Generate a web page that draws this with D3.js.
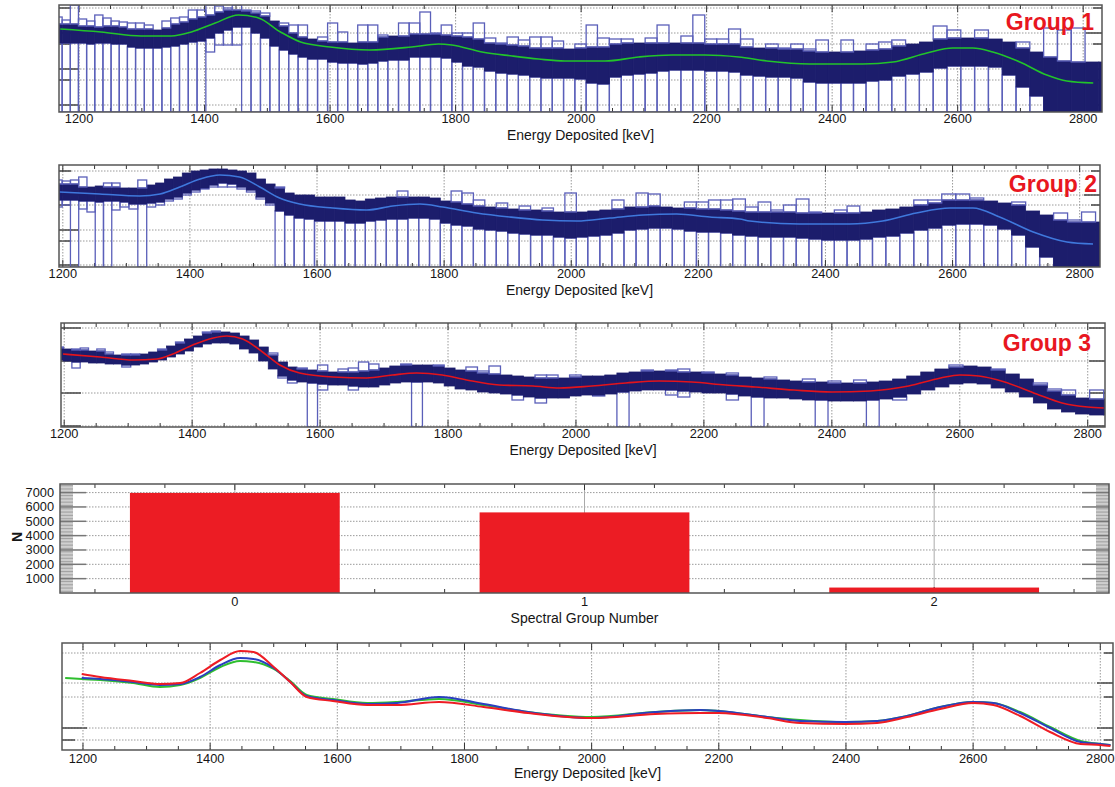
<!DOCTYPE html>
<html><head><meta charset="utf-8">
<script src="https://cdn.jsdelivr.net/npm/d3@7"></script>
<style>
body{margin:0;background:#fff}
svg{display:block}
text{font-family:"Liberation Sans",Arial,Helvetica,sans-serif}
</style>
</head><body>
<svg id="chart" width="1115" height="787"></svg>
<script>
// ---------------- DATA ----------------
const energyTicks = [1200, 1400, 1600, 1800, 2000, 2200, 2400, 2600, 2800];
const energyMinorStep = 50;
const binEdges = [1160,1173,1186,1199,1212,1225,1238,1251,1264,1277,
  1290,1304,1318,1332,1346,1360,1374,1388,1402,1416,
  1430,1444,1459,1474,1489,1504,1519,1534,1549,1564,
  1580,1596,1612,1628,1644,1660,1676,1692,1709,1726,
  1743,1760,1777,1794,1811,1828,1846,1864,1882,1900,
  1918,1936,1954,1972,1990,2008,2026,2045,2064,2083,
  2102,2121,2140,2159,2178,2197,2216,2235,2254,2274,
  2294,2314,2334,2354,2374,2394,2414,2434,2454,2474,
  2495,2517,2539,2561,2583,2605,2627,2649,2671,2693,
  2715,2737,2759,2781,2803,2825,2847];

// Group 1 (ensemble envelope, arbitrary log-count units)
const g1Hi = [88,88,88,86,86,85,86,86,85,83,83,83,82,84,88,90,93,95,97,100,102,102,101,99,96,91,86,79,75,73,71,70,70,69,70,70,75,76,76,78,78,78,77,76,75,73,69,68,67,66,64,64,64,63,64,65,65,68,69,69,69,69,69,69,69,68,68,68,65,64,64,63,63,61,60,60,60,61,62,63,66,68,70,73,74,74,74,73,70,64,60,55,51,50,50,50];
const g1Lo = [69,69,69,69,68,69,69,68,68,65,64,64,64,65,66,68,70,71,74,79,82,85,85,79,74,66,62,58,55,53,53,50,49,49,48,49,51,52,52,55,55,55,54,50,46,45,41,39,38,37,35,34,34,34,33,29,28,35,37,38,39,41,42,42,42,41,41,40,37,36,35,35,34,30,29,29,29,29,31,32,36,38,40,44,46,46,46,45,37,25,16,0,0,0,0,0];
const g1Up = [95,92,107,93,91,97,94,91,90,89,89,87,82,91,94,95,102,102,107,106,104,107,102,101,99,91,89,87,87,73,75,89,80,69,87,87,77,76,89,89,100,79,87,79,79,89,74,69,75,72,75,75,71,63,68,87,74,73,73,69,74,87,69,76,97,73,73,83,73,64,68,64,68,63,72,60,72,61,68,70,72,68,70,86,82,74,82,73,70,70,60,84,82,84,50,50];
const g1Dn = [0,0,0,0,0,0,0,0,0,0,0,0,0,0,0,0,0,0,60,67,67,67,0,0,0,0,0,0,0,0,0,0,0,0,0,0,0,0,0,0,0,0,0,0,0,0,0,0,0,0,0,0,0,0,0,0,0,0,0,0,0,0,0,0,0,0,0,0,0,0,0,0,0,0,0,0,0,0,0,0,0,0,0,0,0,0,0,0,0,0,0,0,0,0,0,0];
const g1MeanE = [1170,1235,1299,1347,1379,1417,1454,1486,1521,1553,1600,1663,1730,1773,1794,1842,1890,1932,1974,2038,2092,2145,2197,2251,2296,2364,2449,2497,2551,2592,2624,2656,2699,2742,2774,2816];
const g1MeanV = [83,80,76,76,80,89,97,94,80,70,65,62,65,68,67,60,56,53,51,51,55,57,57,55,51,48,48,50,59,64,64,60,50,37,31,29];

// Group 2
const g2Hi = [83,83,83,83,83,80,80,81,80,80,79,79,79,82,84,88,90,94,96,97,98,98,97,96,94,88,83,79,74,72,72,70,70,70,67,66,68,69,70,70,70,70,69,66,65,63,61,60,59,58,57,57,56,55,55,55,56,57,58,60,60,61,60,59,59,58,58,57,56,55,55,55,55,54,54,54,54,54,55,57,58,60,62,64,67,67,67,66,64,62,56,52,47,45,45,45];
const g2Lo = [67,67,67,67,67,66,66,65,66,66,65,63,63,64,65,68,70,74,77,79,82,84,83,80,77,70,64,56,52,49,48,46,46,46,44,44,46,47,48,48,49,49,48,44,42,41,38,37,36,34,33,32,32,30,29,30,31,32,34,37,38,39,39,38,36,35,35,34,32,31,30,30,30,29,28,27,27,27,28,30,31,34,37,39,42,43,43,42,38,32,20,10,0,0,0,0];
const g2Up = [83,83,87,86,87,90,80,81,84,84,79,79,87,82,84,88,90,94,96,97,98,98,97,96,94,88,83,80,74,72,72,70,70,70,67,66,67,69,70,76,70,70,69,66,76,74,67,60,64,58,61,57,59,55,74,55,56,57,67,60,74,73,60,59,65,65,67,67,68,60,65,57,62,68,55,54,57,61,55,57,58,60,67,67,73,73,69,65,64,65,56,52,54,47,55,45];
const g2Dn = [60,60,60,62,0,58,55,0,0,57,60,58,0,60,62,66,68,72,75,78,80,80,80,78,75,68,62,0,0,0,0,0,0,0,0,0,0,0,0,0,0,0,0,0,0,0,0,0,0,0,0,0,0,0,0,0,0,0,0,0,0,0,0,0,0,0,0,0,0,0,0,0,0,0,0,0,0,0,0,0,0,0,0,0,0,0,0,0,0,0,0,0,0,0,0,0];
const g2MeanE = [1195,1258,1321,1353,1384,1416,1447,1478,1510,1541,1573,1625,1678,1719,1762,1798,1851,1903,1955,2009,2061,2113,2166,2218,2265,2281,2359,2438,2490,2543,2596,2632,2674,2727,2780,2821];
const g2MeanV = [75,73,71,73,80,88,92,90,80,69,63,59,57,61,63,60,54,50,47,46,49,52,53,50,48,46,43,43,46,54,59,59,50,35,25,23];

// Group 3
const g3Hi = [79,79,79,78,77,77,76,76,73,72,72,72,73,75,77,81,84,88,91,94,95,95,94,91,87,80,72,65,60,58,57,56,55,55,55,56,57,59,61,62,62,62,61,59,57,56,54,53,52,51,50,49,49,49,50,51,51,52,54,55,56,56,56,55,55,54,53,52,50,49,48,47,46,45,45,44,44,44,45,46,48,51,55,58,60,61,60,57,53,48,42,36,32,29,28,28];
const g3Lo = [67,67,67,66,65,65,64,64,63,63,62,62,63,65,67,70,73,76,80,83,84,84,83,78,74,66,58,51,47,45,44,43,42,42,41,40,40,42,44,45,45,45,44,41,38,37,35,34,33,32,30,29,29,29,31,32,32,33,35,36,37,37,37,36,35,34,34,33,31,30,29,29,28,27,27,26,26,26,27,28,30,33,37,40,43,44,43,39,35,30,24,18,15,13,12,12];
const g3Up = [79,79,80,78,78,79,76,78,75,72,73,73,73,75,78,81,85,88,91,95,96,95,94,91,87,80,74,65,60,59,57,62,55,58,59,65,63,59,61,63,61,62,62,59,57,60,56,61,52,51,50,52,52,49,52,51,51,52,54,55,57,56,57,58,55,55,53,54,50,49,50,47,46,48,45,46,44,47,45,46,48,51,55,58,62,61,60,58,53,48,44,38,37,29,37,28];
const g3Dn = [67,67,67,66,59,65,64,64,63,63,60,62,63,65,67,70,73,76,80,83,84,84,83,78,74,66,58,49,44,45,0,37,42,42,37,40,40,42,44,45,0,45,44,41,38,37,35,34,33,27,30,24,29,29,31,32,31,33,0,36,37,37,32,30,35,34,34,27,31,0,29,29,28,27,0,26,26,26,0,28,27,33,37,40,43,44,43,39,35,30,24,18,15,13,12,12];
const g3MeanE = [1198,1256,1308,1345,1370,1401,1433,1454,1479,1510,1537,1568,1620,1673,1713,1751,1791,1829,1880,1933,1974,2025,2078,2130,2181,2234,2280,2340,2400,2460,2520,2570,2600,2630,2670,2720,2760,2800,2825];
const g3MeanV = [73,70,67,68,73,82,89,91,88,75,62,54,50,49,52,54,52,47,42,41,39,41,44,46,45,42,40,37,35,36,41,49,52,51,45,33,24,20,19];

// log-axis grid levels (arbitrary units) per panel: [level, isDecade]
const g1Grid = [[104,0],[79,1],[68,0],[43,1],[32,0],[7,1]];
const g2Grid = [[96,0],[72,1],[62,0],[37,1],[26,0],[2,1]];
const g3Grid = [[99,1],[66,1],[34,1],[1,1]];

// Spectral group counts
const groupNumbers = [0, 1, 2];
const groupCounts = [6980, 5620, 380];
const countTicks = [1000, 2000, 3000, 4000, 5000, 6000, 7000];

// Overlay of the three group means
const ovE     = [1172,1198,1227,1279,1321,1353,1384,1416,1447,1468,1500,1526,1552,1593,1647,1694,1760,1830,1900,2000,2100,2171,2200,2276,2328,2399,2449,2496,2548,2600,2632,2674,2721,2769,2800,2816];
const ovGreen = [72,71,70,67,63,65,72,83,89,88,81,69,55,51,47,48,51,45,38,33,38,40,39,33,30,28,29,34,43,48,47,38,23,9,6,5];
const ovBlue  = [null,72,71,68,65,66,73,85,92,91,82,68,54,50,46,47,53,46,38,32,38,40,39,33,29,28,29,34,43,48,47,37,22,8,6,5];
const ovRed   = [null,76,73,69,66,67,77,90,99,98,83,68,53,49,45,45,48,43,37,32,36,37,37,32,27,26,27,33,41,47,45,34,18,6,5,4];
const ovGrid  = [[97,0],[67,1],[53,0],[22,1],[10,0]];

// ---------------- DRAWING ----------------
const svg = d3.select("#chart");
const NAVY = "#1c1d6c", OUTLINE = "#5a5fb9", FRAME = "#555", GRIDC = "#9a9a9a";
const RED = "#e8171f", TXT = "#151515";

function energyAxis(g, x, top, bottom) {
  const lo = x.domain()[0], hi = x.domain()[1];
  const minors = d3.range(Math.ceil(lo / energyMinorStep) * energyMinorStep, hi, energyMinorStep);
  g.append("g").selectAll("line").data(energyTicks).join("line")
    .attr("x1", d => x(d)).attr("x2", d => x(d)).attr("y1", top).attr("y2", bottom)
    .attr("stroke", GRIDC).attr("stroke-dasharray", "1.5,1.5").attr("stroke-width", 1);
  const t = g.append("g");
  t.selectAll(".b").data(minors).join("line")
    .attr("x1", d => x(d)).attr("x2", d => x(d))
    .attr("y1", bottom).attr("y2", d => bottom - (d % 200 === 0 ? 7 : 4))
    .attr("stroke", "#333").attr("stroke-width", 1);
  t.selectAll(".t").data(minors).join("line")
    .attr("x1", d => x(d)).attr("x2", d => x(d))
    .attr("y1", top).attr("y2", d => top + (d % 200 === 0 ? 7 : 4))
    .attr("stroke", "#333").attr("stroke-width", 1);
}
function energyLabels(g, x, labelY, titleY) {
  g.append("g").selectAll("text").data(energyTicks).join("text")
    .attr("x", d => x(d)).attr("y", labelY).attr("text-anchor", "middle")
    .attr("font-size", 12.8).attr("fill", TXT).text(d => d);
  const r = x.range();
  g.append("text").attr("x", (r[0] + r[1]) / 2).attr("y", titleY)
    .attr("text-anchor", "middle").attr("font-size", 14).attr("fill", TXT)
    .text("Energy Deposited [keV]");
}
function levelGrid(g, y, grid, left, right) {
  g.append("g").selectAll("line").data(grid).join("line")
    .attr("x1", left).attr("x2", right).attr("y1", d => y(d[0])).attr("y2", d => y(d[0]))
    .attr("stroke", GRIDC).attr("stroke-dasharray", "1.5,1.5").attr("stroke-width", 1);
  const t = g.append("g");
  t.selectAll(".l").data(grid).join("line")
    .attr("x1", left).attr("x2", d => left + (d[1] ? 20 : 12))
    .attr("y1", d => y(d[0])).attr("y2", d => y(d[0])).attr("stroke", "#444").attr("stroke-width", 1.5);
  t.selectAll(".r").data(grid).join("line")
    .attr("x1", right).attr("x2", d => right - (d[1] ? 16 : 9))
    .attr("y1", d => y(d[0])).attr("y2", d => y(d[0])).attr("stroke", "#444").attr("stroke-width", 1.5);
}

function histPanel(p) {
  const x = d3.scaleLinear().domain(p.eDom).range([p.left, p.right]);
  const y = d3.scaleLinear().domain([0, p.uMax]).range([p.bottom, p.top]);
  const g = svg.append("g");
  const cid = "clip" + p.id;
  svg.append("clipPath").attr("id", cid).append("rect")
    .attr("x", p.left).attr("y", p.top).attr("width", p.right - p.left).attr("height", p.bottom - p.top);

  levelGrid(g, y, p.grid, p.left, p.right);
  energyAxis(g, x, p.top, p.bottom);

  const bins = p.hi.map((h, i) => ({e0: binEdges[i], e1: binEdges[i + 1], hi: h, lo: p.lo[i], up: p.up[i], dn: p.dn[i]}));
  const dg = g.append("g").attr("clip-path", `url(#${cid})`);
  dg.append("g").selectAll("rect").data(bins.filter(b => b.dn < b.lo)).join("rect")
    .attr("x", b => x(b.e0)).attr("width", b => x(b.e1) - x(b.e0))
    .attr("y", b => y(b.lo)).attr("height", b => y(b.dn) - y(b.lo))
    .attr("fill", "none").attr("stroke", OUTLINE).attr("stroke-width", 1.3);
  dg.append("g").selectAll("rect").data(bins).join("rect")
    .attr("x", b => x(b.e0)).attr("width", b => x(b.e1) - x(b.e0))
    .attr("y", b => y(b.hi)).attr("height", b => y(b.lo) - y(b.hi))
    .attr("fill", NAVY).attr("stroke", NAVY).attr("stroke-width", 0.8);
  dg.append("g").selectAll("rect").data(bins.filter(b => b.up > b.hi)).join("rect")
    .attr("x", b => x(b.e0)).attr("width", b => x(b.e1) - x(b.e0))
    .attr("y", b => y(b.up)).attr("height", b => y(b.hi) - y(b.up))
    .attr("fill", "none").attr("stroke", OUTLINE).attr("stroke-width", 1.3);
  dg.append("path").datum(p.meanE.map((e, i) => [e, p.meanV[i]]))
    .attr("d", d3.line().x(d => x(d[0])).y(d => y(d[1])).curve(d3.curveMonotoneX))
    .attr("fill", "none").attr("stroke", p.meanColor).attr("stroke-width", 1.6);

  g.append("rect").attr("x", p.left).attr("y", p.top).attr("width", p.right - p.left).attr("height", p.bottom - p.top)
    .attr("fill", "none").attr("stroke", FRAME).attr("stroke-width", 1.5);
  energyLabels(g, x, p.bottom + 10.5, p.bottom + 28);
  g.append("text").attr("x", p.gx).attr("y", p.gy).attr("text-anchor", "end")
    .attr("font-size", 23).attr("font-weight", "bold").attr("fill", RED).text(p.group);
}

histPanel({id: 1, eDom: [1168, 2830], left: 59, right: 1102, top: 5, bottom: 112, uMax: 107,
  hi: g1Hi, lo: g1Lo, up: g1Up, dn: g1Dn, meanE: g1MeanE, meanV: g1MeanV, meanColor: "#22c42a",
  grid: g1Grid, group: "Group 1", gx: 1094, gy: 30});
histPanel({id: 2, eDom: [1194, 2832], left: 59, right: 1100, top: 165, bottom: 267, uMax: 102,
  hi: g2Hi, lo: g2Lo, up: g2Up, dn: g2Dn, meanE: g2MeanE, meanV: g2MeanV, meanColor: "#3f78dc",
  grid: g2Grid, group: "Group 2", gx: 1097, gy: 192});
histPanel({id: 3, eDom: [1195, 2827], left: 61, right: 1105, top: 323, bottom: 427, uMax: 104,
  hi: g3Hi, lo: g3Lo, up: g3Up, dn: g3Dn, meanE: g3MeanE, meanV: g3MeanV, meanColor: "#e3141c",
  grid: g3Grid, group: "Group 3", gx: 1091, gy: 351});

// ---- Bar panel ----
(function () {
  const left = 60, right = 1109, top = 484, bottom = 593;
  const x = d3.scaleLinear().domain([-0.5, 2.5]).range([left, right]);
  const y = d3.scaleLinear().domain([0, 7600]).range([bottom, top]);
  const g = svg.append("g");
  g.append("g").selectAll("line").data(countTicks).join("line")
    .attr("x1", left + 26).attr("x2", right - 27).attr("y1", d => y(d)).attr("y2", d => y(d))
    .attr("stroke", GRIDC).attr("stroke-dasharray", "1.5,1.5");
  g.append("g").selectAll("line").data(groupNumbers).join("line")
    .attr("x1", d => x(d)).attr("x2", d => x(d)).attr("y1", top).attr("y2", bottom)
    .attr("stroke", "#aaa").attr("stroke-width", 1);
  const minorY = d3.range(100, 7600, 100);
  const mt = g.append("g");
  mt.selectAll(".l").data(minorY).join("line")
    .attr("x1", left).attr("x2", left + 13).attr("y1", d => y(d)).attr("y2", d => y(d))
    .attr("stroke", "#8a8a8a").attr("stroke-width", 0.8);
  mt.selectAll(".r").data(minorY).join("line")
    .attr("x1", right - 13).attr("x2", right).attr("y1", d => y(d)).attr("y2", d => y(d))
    .attr("stroke", "#8a8a8a").attr("stroke-width", 0.8);
  mt.selectAll(".L").data(countTicks).join("line")
    .attr("x1", left).attr("x2", left + 26).attr("y1", d => y(d)).attr("y2", d => y(d))
    .attr("stroke", "#777").attr("stroke-width", 1.5);
  mt.selectAll(".R").data(countTicks).join("line")
    .attr("x1", right - 27).attr("x2", right).attr("y1", d => y(d)).attr("y2", d => y(d))
    .attr("stroke", "#777").attr("stroke-width", 1.5);
  const xt = d3.range(-0.4, 2.5, 0.2);
  mt.selectAll(".xb").data(xt).join("line")
    .attr("x1", d => x(d)).attr("x2", d => x(d)).attr("y1", bottom).attr("y2", d => bottom - (Math.abs(d - Math.round(d)) < 1e-6 ? 6 : 4))
    .attr("stroke", "#333");
  mt.selectAll(".xt").data(xt).join("line")
    .attr("x1", d => x(d)).attr("x2", d => x(d)).attr("y1", top).attr("y2", d => top + (Math.abs(d - Math.round(d)) < 1e-6 ? 6 : 4))
    .attr("stroke", "#333");
  g.append("g").selectAll("rect").data(groupNumbers).join("rect")
    .attr("x", d => x(d - 0.3)).attr("width", x(0.3) - x(-0.3))
    .attr("y", (d, i) => y(groupCounts[i])).attr("height", (d, i) => y(0) - y(groupCounts[i]))
    .attr("fill", "#ec1c24");
  g.append("rect").attr("x", left).attr("y", top).attr("width", right - left).attr("height", bottom - top)
    .attr("fill", "none").attr("stroke", FRAME).attr("stroke-width", 1.5);
  g.append("g").selectAll("text").data(countTicks).join("text")
    .attr("x", 54).attr("y", d => y(d) + 4.5).attr("text-anchor", "end")
    .attr("font-size", 12.8).attr("fill", TXT).text(d => d);
  g.append("g").selectAll("text").data(groupNumbers).join("text")
    .attr("x", d => x(d)).attr("y", 606).attr("text-anchor", "middle")
    .attr("font-size", 12.8).attr("fill", TXT).text(d => d);
  g.append("text").attr("x", (left + right) / 2).attr("y", 623).attr("text-anchor", "middle")
    .attr("font-size", 14).attr("fill", TXT).text("Spectral Group Number");
  g.append("text").attr("transform", "translate(22,537) rotate(-90)").attr("text-anchor", "middle")
    .attr("font-size", 14).attr("font-weight", "bold").attr("fill", TXT).text("N");
})();

// ---- Overlay panel ----
(function () {
  const left = 62, right = 1113, top = 643, bottom = 750;
  const x = d3.scaleLinear().domain([1167, 2820]).range([left, right]);
  const y = d3.scaleLinear().domain([0, 107]).range([bottom, top]);
  const g = svg.append("g");
  svg.append("clipPath").attr("id", "clip5").append("rect")
    .attr("x", left).attr("y", top).attr("width", right - left).attr("height", bottom - top);
  g.append("g").selectAll("line").data(ovGrid).join("line")
    .attr("x1", left).attr("x2", right).attr("y1", d => y(d[0])).attr("y2", d => y(d[0]))
    .attr("stroke", GRIDC).attr("stroke-dasharray", "1.5,1.5");
  const t = g.append("g");
  t.selectAll(".r").data(ovGrid).join("line")
    .attr("x1", right).attr("x2", d => right - (d[1] ? 16 : 9))
    .attr("y1", d => y(d[0])).attr("y2", d => y(d[0])).attr("stroke", "#444").attr("stroke-width", 1.5);
  t.selectAll(".l").data(ovGrid.filter(d => d[0] < 30)).join("line")
    .attr("x1", left).attr("x2", d => left + (d[1] ? 25 : 13))
    .attr("y1", d => y(d[0])).attr("y2", d => y(d[0])).attr("stroke", "#444").attr("stroke-width", 1.5);
  energyAxis(g, x, top, bottom);
  const dg = g.append("g").attr("clip-path", "url(#clip5)");
  const line = d3.line().defined(d => d[1] !== null).x(d => x(d[0])).y(d => y(d[1])).curve(d3.curveMonotoneX);
  [[ovGreen, "#2fbf2f"], [ovBlue, "#2a3fc0"], [ovRed, "#ee1c24"]].forEach(([vals, col]) => {
    dg.append("path").datum(ovE.map((e, i) => [e, vals[i]]))
      .attr("d", line).attr("fill", "none").attr("stroke", col).attr("stroke-width", 2);
  });
  g.append("rect").attr("x", left).attr("y", top).attr("width", right - left).attr("height", bottom - top)
    .attr("fill", "none").attr("stroke", FRAME).attr("stroke-width", 1.5);
  energyLabels(g, x, bottom + 12.5, bottom + 28);
})();
</script>
</body></html>
